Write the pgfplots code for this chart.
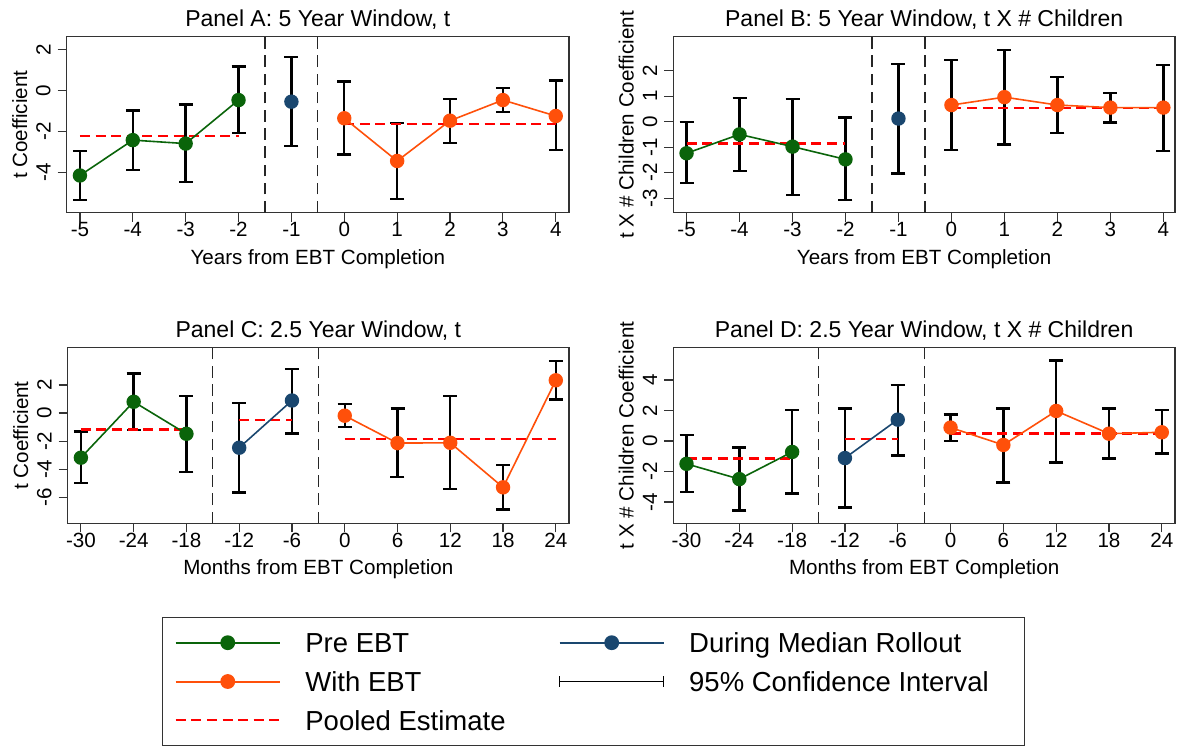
\documentclass[border=0pt]{standalone}
\usepackage{fontspec}
\setmainfont{Liberation Sans}
\usepackage{pgfplots}
\usepackage{pgfplotstable}
\pgfplotsset{compat=1.18}

\definecolor{pregreen}{RGB}{10,100,10}
\definecolor{postorange}{RGB}{255,80,10}
\definecolor{durblue}{RGB}{26,71,111}

% x y lo hi
\pgfplotstableread{
x y lo hi
-5 -4.15 -5.34 -2.94
-4 -2.42 -3.87 -0.98
-3 -2.59 -4.46 -0.68
-2 -0.46 -2.07 1.18
-1 -0.54 -2.71 1.65
0 -1.35 -3.13 0.44
1 -3.44 -5.30 -1.58
2 -1.47 -2.57 -0.41
3 -0.46 -1.04 0.13
4 -1.24 -2.90 0.49
}\dataA
\pgfplotstableread{
x y lo hi
-5 -1.24 -2.41 -0.01
-4 -0.50 -1.93 0.93
-3 -0.98 -2.88 0.89
-2 -1.48 -3.08 0.16
-1 0.12 -2.04 2.27
0 0.65 -1.11 2.42
1 0.96 -0.90 2.81
2 0.65 -0.44 1.75
3 0.55 -0.04 1.13
4 0.55 -1.14 2.21
}\dataB
\pgfplotstableread{
x y lo hi
-30 -3.18 -4.96 -1.32
-24 0.80 -1.22 2.80
-18 -1.48 -4.19 1.22
-12 -2.47 -5.67 0.73
-6 0.89 -1.46 3.13
0 -0.19 -1.01 0.66
6 -2.14 -4.54 0.33
12 -2.12 -5.39 1.22
18 -5.29 -6.87 -3.69
24 2.33 0.96 3.69
}\dataC
\pgfplotstableread{
x y lo hi
-30 -1.50 -3.33 0.40
-24 -2.50 -4.56 -0.42
-18 -0.72 -3.44 2.02
-12 -1.12 -4.36 2.13
-6 1.40 -0.94 3.68
0 0.88 -0.02 1.73
6 -0.26 -2.72 2.13
12 1.97 -1.40 5.28
18 0.48 -1.14 2.13
24 0.57 -0.81 2.02
}\dataD

\pgfplotsset{
  panel/.style={
    scale only axis, anchor=north west,
    axis line style={black!80, line width=0.6pt},
    tick align=outside, xtick pos=bottom, ytick pos=left,
    major tick length=4.5pt,
    major tick style={black!80, line width=0.6pt},
    font=\fontsize{10.3}{12}\selectfont,
    tick label style={font=\fontsize{10.3}{12}\selectfont},
    /pgf/number format/assume math mode=true,
    xticklabel style={inner ysep=0pt},
    yticklabel style={rotate=90, anchor=south},
    every axis title/.style={at={(axis description cs:0.5,1)}, anchor=base, yshift=5pt, font=\fontsize{11.5}{13}\selectfont},
    every axis x label/.style={at={(axis description cs:0.5,0)}, anchor=base, yshift=-25.8pt},
    every axis y label/.style={at={(axis description cs:0,0.5)}, xshift=-23.5pt, rotate=90, anchor=center},
  },
  ci/.style={forget plot, only marks, mark=none,
    error bars/.cd, y dir=both, y explicit,
    error bar style={black, line width=1.2pt},
    error mark options={rotate=90, black, line width=1.2pt, mark size=3.5pt}},
  pooled/.style={forget plot, red, line width=1.15pt, dash pattern=on 5pt off 2.8pt},
  sep/.style={forget plot, black!85, line width=0.65pt, dash pattern=on 5.8pt off 3.3pt},
  grp/.style={forget plot, #1, line width=0.8pt, mark=*, mark size=3.2pt, mark options={solid, fill=#1, draw=#1}},
  legline/.style={legend image code/.code={\draw[line width=1pt, mark repeat=2,mark phase=2] plot coordinates {(0pt,0pt) (26pt,0pt) (52pt,0pt)};}},
}

\begin{document}
\begin{tikzpicture}
\useasboundingbox (0,0) rectangle (589pt,-373.5pt);

% Panel A
\begin{axis}[panel, at={(33.35pt,-18.35pt)}, width=251.15pt, height=88pt,
  xmin=-5.25, xmax=4.25, ymin=-5.97, ymax=2.64,
  xtick={-5,-4,...,4}, ytick={-4,-2,0,2},
  title={Panel A: 5 Year Window, t},
  xlabel={Years from EBT Completion}, ylabel={t Coefficient}]
\addplot[sep] coordinates {(-1.5,-5.97) (-1.5,2.64)};
\addplot[sep] coordinates {(-0.5,-5.97) (-0.5,2.64)};
\addplot[ci] table[x=x, y=y, y error plus expr=\thisrow{hi}-\thisrow{y}, y error minus expr=\thisrow{y}-\thisrow{lo}] {\dataA};
\addplot[pooled] coordinates {(-5,-2.23) (-2,-2.23)};
\addplot[pooled] coordinates {(0,-1.62) (4,-1.62)};
\addplot[grp=pregreen, restrict x to domain=-5:-2] table[x=x, y=y] {\dataA};
\addplot[grp=durblue, restrict x to domain=-1:-1] table[x=x, y=y] {\dataA};
\addplot[grp=postorange, restrict x to domain=0:4] table[x=x, y=y] {\dataA};
\end{axis}

% Panel B
\begin{axis}[panel, at={(336.65pt,-18.35pt)}, width=250.85pt, height=88pt,
  xmin=-5.25, xmax=4.22, ymin=-3.57, ymax=3.33,
  xtick={-5,-4,...,4}, ytick={-3,-2,...,2},
  title={Panel B: 5 Year Window, t X \# Children},
  xlabel={Years from EBT Completion}, ylabel={t X \# Children Coefficient}]
\addplot[sep] coordinates {(-1.5,-3.57) (-1.5,3.33)};
\addplot[sep] coordinates {(-0.5,-3.57) (-0.5,3.33)};
\addplot[ci] table[x=x, y=y, y error plus expr=\thisrow{hi}-\thisrow{y}, y error minus expr=\thisrow{y}-\thisrow{lo}] {\dataB};
\addplot[pooled] coordinates {(-5,-0.86) (-2,-0.86)};
\addplot[pooled] coordinates {(0,0.53) (4,0.53)};
\addplot[grp=pregreen, restrict x to domain=-5:-2] table[x=x, y=y] {\dataB};
\addplot[grp=durblue, restrict x to domain=-1:-1] table[x=x, y=y] {\dataB};
\addplot[grp=postorange, restrict x to domain=0:4] table[x=x, y=y] {\dataB};
\end{axis}

% Panel C
\begin{axis}[panel, at={(33.85pt,-173.85pt)}, width=250.65pt, height=87.8pt,
  xmin=-31.5, xmax=25.5, ymin=-7.85, ymax=4.65,
  xtick={-30,-24,...,24}, ytick={-6,-4,...,2},
  title={Panel C: 2.5 Year Window, t},
  xlabel={Months from EBT Completion}, ylabel={t Coefficient},
  legend columns=2, legend cell align=left,
  legend style={at={(0.1887,-0.532)}, anchor=north west,
    draw=black!80, line width=0.6pt, inner xsep=5.85pt, inner ysep=3pt,
    font=\fontsize{13.75}{16}\selectfont,
    nodes={inner xsep=0pt, inner ysep=3.2pt, text height=11.5pt, text depth=1.5pt},
    row sep=0pt,
    /tikz/every odd column/.append style={column sep=12.25pt}}]
\addlegendimage{legline, pregreen, mark=*, mark size=3.2pt, mark options={fill=pregreen}}
\addlegendentry{\makebox[126.65pt][l]{Pre EBT}}
\addlegendimage{legline, durblue, mark=*, mark size=3.2pt, mark options={fill=durblue}}
\addlegendentry{\makebox[161.65pt][l]{During Median Rollout}}
\addlegendimage{legline, postorange, mark=*, mark size=3.2pt, mark options={fill=postorange}}
\addlegendentry{\makebox[126.65pt][l]{With EBT}}
\addlegendimage{legend image code/.code={\draw[black, line width=0.5pt] (0pt,0pt) -- (52pt,0pt) (0pt,-2.7pt) -- (0pt,2.7pt) (52pt,-2.7pt) -- (52pt,2.7pt);}}
\addlegendentry{\makebox[161.65pt][l]{95\% Confidence Interval}}
\addlegendimage{legend image code/.code={\draw[red, line width=1.15pt, dash pattern=on 5pt off 2.8pt] (0pt,0pt) -- (52pt,0pt);}}
\addlegendentry{\makebox[126.65pt][l]{Pooled Estimate}}
\addplot[sep] coordinates {(-15,-7.85) (-15,4.65)};
\addplot[sep] coordinates {(-3,-7.85) (-3,4.65)};
\addplot[ci] table[x=x, y=y, y error plus expr=\thisrow{hi}-\thisrow{y}, y error minus expr=\thisrow{y}-\thisrow{lo}] {\dataC};
\addplot[pooled] coordinates {(-30,-1.18) (-18,-1.18)};
\addplot[pooled] coordinates {(-12,-0.52) (-6,-0.52)};
\addplot[pooled] coordinates {(0,-1.84) (24,-1.84)};
\addplot[grp=pregreen, restrict x to domain=-30:-18] table[x=x, y=y] {\dataC};
\addplot[grp=durblue, restrict x to domain=-12:-6] table[x=x, y=y] {\dataC};
\addplot[grp=postorange, restrict x to domain=0:24] table[x=x, y=y] {\dataC};
\end{axis}

% Panel D
\begin{axis}[panel, at={(336.65pt,-173.85pt)}, width=250.85pt, height=87.8pt,
  xmin=-31.5, xmax=25.5, ymin=-5.40, ymax=6.12,
  xtick={-30,-24,...,24}, ytick={-4,-2,...,4},
  title={Panel D: 2.5 Year Window, t X \# Children},
  xlabel={Months from EBT Completion}, ylabel={t X \# Children Coefficient}]
\addplot[sep] coordinates {(-15,-5.40) (-15,6.12)};
\addplot[sep] coordinates {(-3,-5.40) (-3,6.12)};
\addplot[ci] table[x=x, y=y, y error plus expr=\thisrow{hi}-\thisrow{y}, y error minus expr=\thisrow{y}-\thisrow{lo}] {\dataD};
\addplot[pooled] coordinates {(-30,-1.14) (-18,-1.14)};
\addplot[pooled] coordinates {(-12,0.11) (-6,0.11)};
\addplot[pooled] coordinates {(0,0.50) (24,0.50)};
\addplot[grp=pregreen, restrict x to domain=-30:-18] table[x=x, y=y] {\dataD};
\addplot[grp=durblue, restrict x to domain=-12:-6] table[x=x, y=y] {\dataD};
\addplot[grp=postorange, restrict x to domain=0:24] table[x=x, y=y] {\dataD};
\end{axis}
\end{tikzpicture}
\end{document}
